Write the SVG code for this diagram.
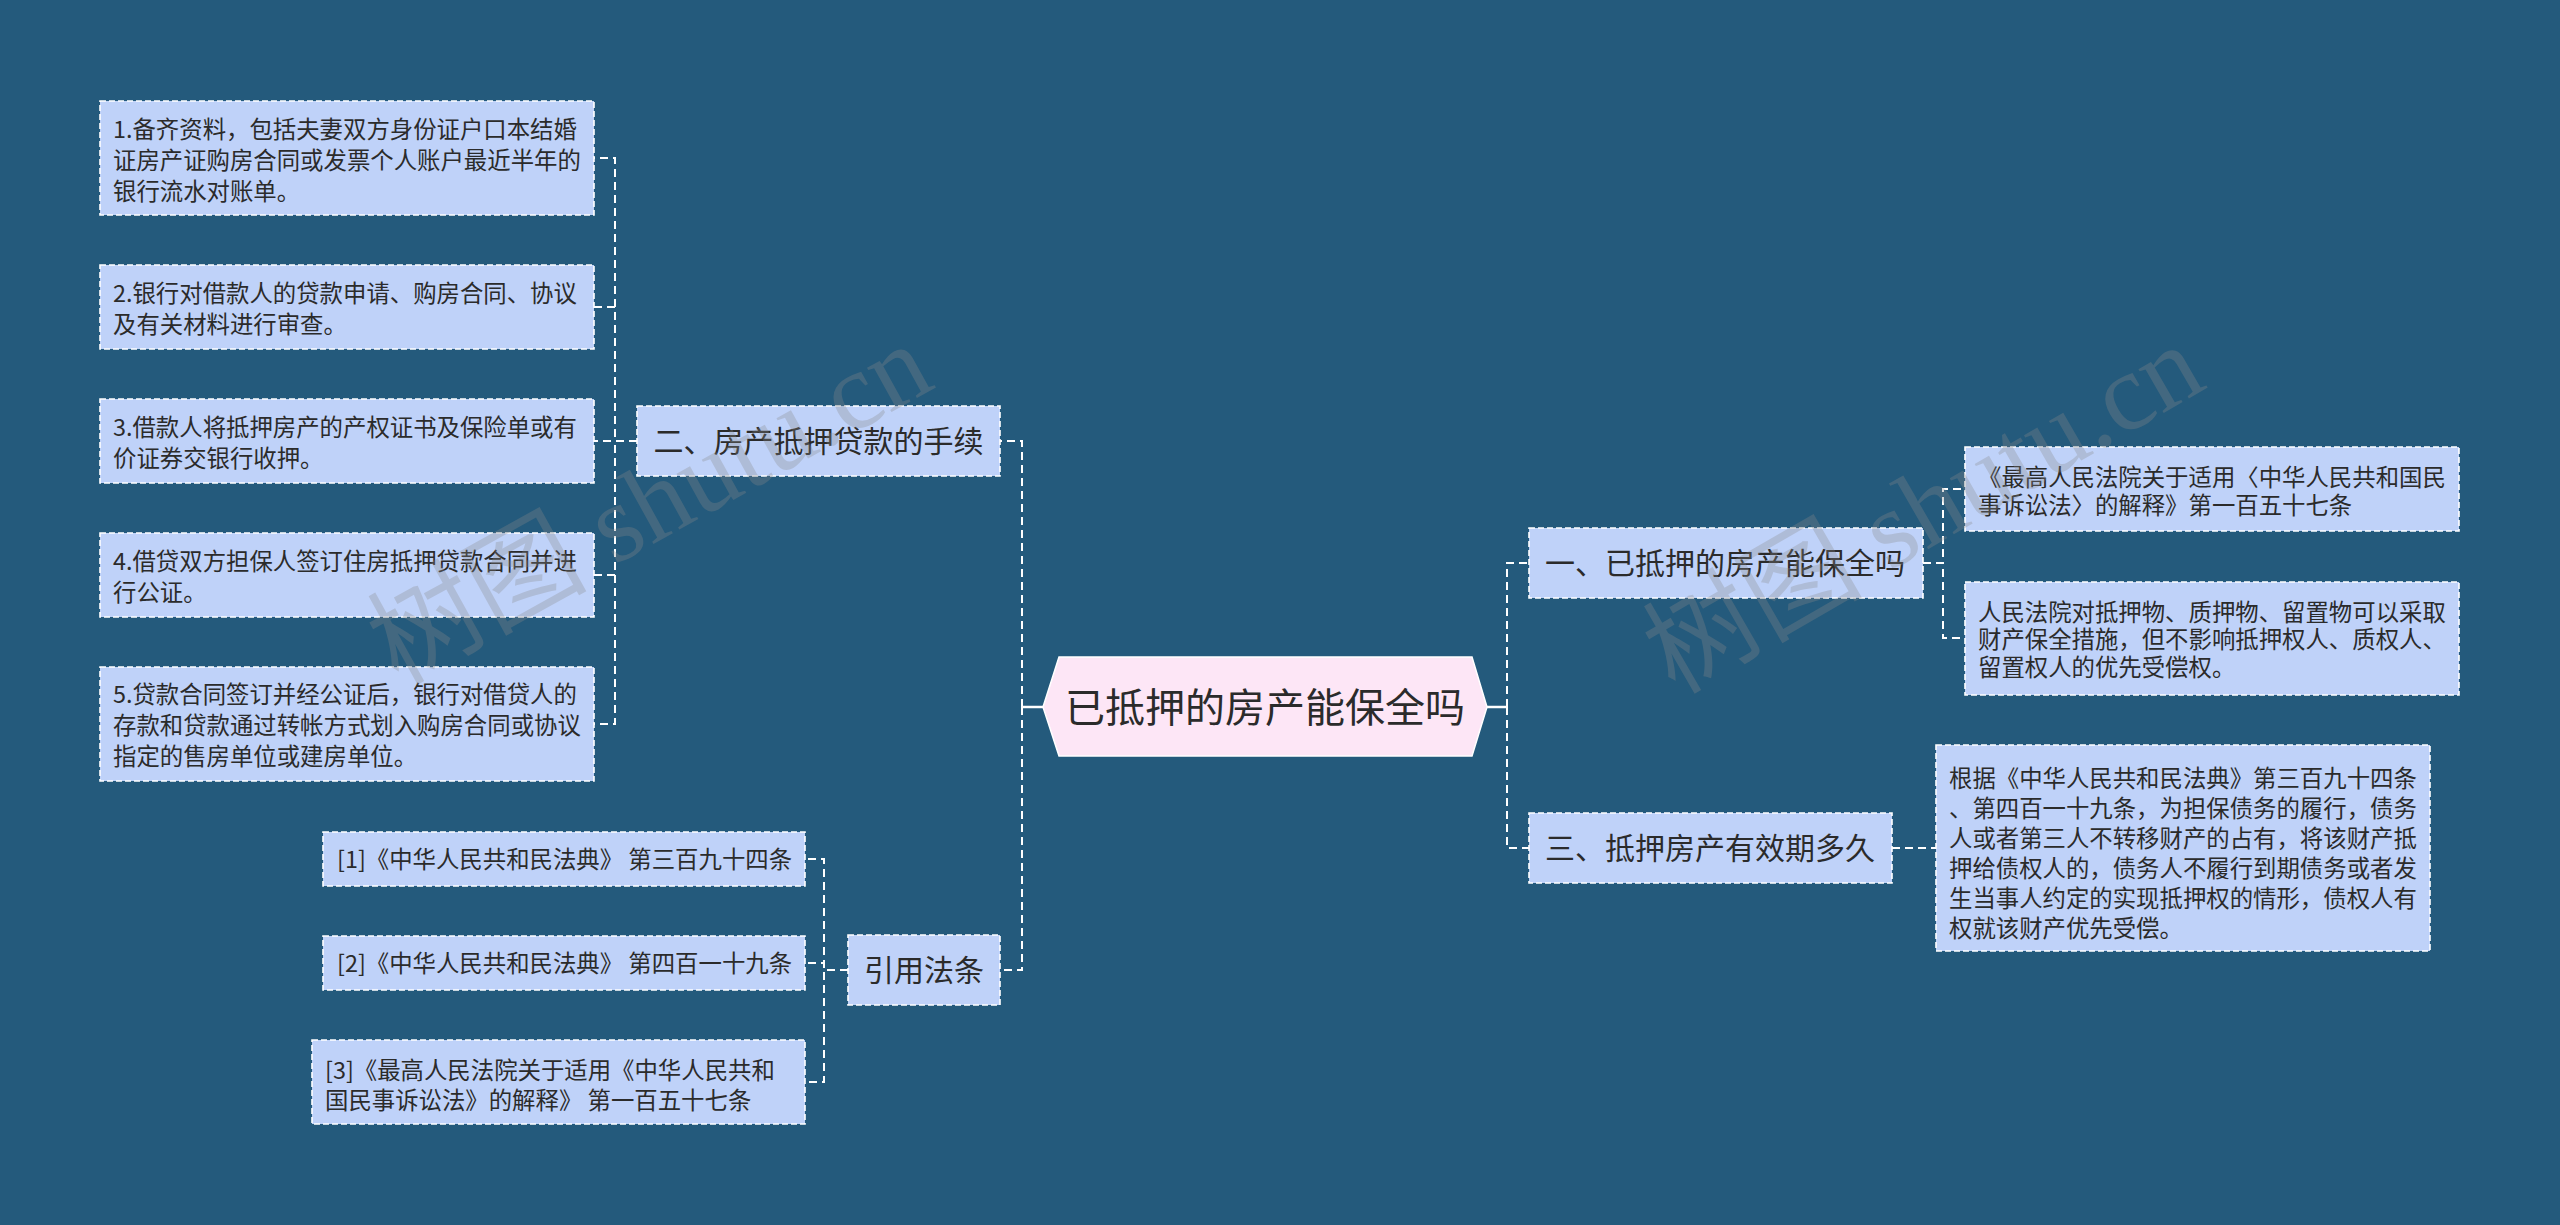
<svg xmlns="http://www.w3.org/2000/svg" width="2560" height="1225" viewBox="0 0 2560 1225">
<style>
.bg{fill:#245a7c}
.box{fill:#bfd2f9;stroke:#ffffff;stroke-width:1.6;stroke-dasharray:6 3}
.hex{fill:#fde6f6;stroke:#ffffff;stroke-width:1.5}
.t{font-family:"Noto Sans CJK SC","Noto Sans",sans-serif;fill:#2b2b2b}
.s{font-size:23.4px}
.m{font-size:30px}
.c{font-size:40px}
.ln{fill:none;stroke:#ffffff;stroke-width:2;stroke-dasharray:8 5}
.solid{fill:none;stroke:#ffffff;stroke-width:2.5}
.wm{font-family:"Liberation Serif","Noto Sans CJK SC",serif;font-size:110px;fill:#8a8a8a;opacity:0.3}
</style>
<rect class="bg" x="0" y="0" width="2560" height="1225"/>

<g id="connectors">
  <path class="ln" d="M637,441 H615 V158 H594"/>
  <path class="ln" d="M637,441 H615 V307 H594"/>
  <path class="ln" d="M637,441 H594"/>
  <path class="ln" d="M637,441 H615 V575 H594"/>
  <path class="ln" d="M637,441 H615 V724 H594"/>
  <path class="ln" d="M848,970 H824 V859 H805"/>
  <path class="ln" d="M848,970 H824 V963 H805"/>
  <path class="ln" d="M848,970 H824 V1082 H805"/>
  <path class="solid" d="M1043,707 H1022"/>
  <path class="ln" d="M1022,707 V441 H1000"/>
  <path class="ln" d="M1022,707 V970 H1000"/>
  <path class="solid" d="M1487,707 H1507"/>
  <path class="ln" d="M1507,707 V563 H1529"/>
  <path class="ln" d="M1507,707 V848 H1529"/>
  <path class="ln" d="M1923,563 H1943 V489 H1965"/>
  <path class="ln" d="M1923,563 H1943 V638 H1965"/>
  <path class="ln" d="M1892,848 H1936"/>
</g>

<g id="center">
  <polygon class="hex" points="1043,707 1059,657 1472,657 1487,707 1472,756 1059,756"/>
  <text class="t c" x="1265" y="722" text-anchor="middle">已抵押的房产能保全吗</text>
</g>

<g id="n2">
  <rect class="box" x="637" y="406" width="363" height="70"/>
  <text class="t m" x="818.5" y="452" text-anchor="middle">二、房产抵押贷款的手续</text>
</g>
<g id="n2-1">
  <rect class="box" x="100" y="101" width="494" height="114"/>
  <text class="t s" x="113" y="138">1.备齐资料，包括夫妻双方身份证户口本结婚</text>
  <text class="t s" x="113" y="169">证房产证购房合同或发票个人账户最近半年的</text>
  <text class="t s" x="113" y="200">银行流水对账单。</text>
</g>
<g id="n2-2">
  <rect class="box" x="100" y="265" width="494" height="84"/>
  <text class="t s" x="113" y="302">2.银行对借款人的贷款申请、购房合同、协议</text>
  <text class="t s" x="113" y="333">及有关材料进行审查。</text>
</g>
<g id="n2-3">
  <rect class="box" x="100" y="399" width="494" height="84"/>
  <text class="t s" x="113" y="436">3.借款人将抵押房产的产权证书及保险单或有</text>
  <text class="t s" x="113" y="467">价证券交银行收押。</text>
</g>
<g id="n2-4">
  <rect class="box" x="100" y="533" width="494" height="84"/>
  <text class="t s" x="113" y="570">4.借贷双方担保人签订住房抵押贷款合同并进</text>
  <text class="t s" x="113" y="601">行公证。</text>
</g>
<g id="n2-5">
  <rect class="box" x="100" y="667" width="494" height="114"/>
  <text class="t s" x="113" y="703">5.贷款合同签订并经公证后，银行对借贷人的</text>
  <text class="t s" x="113" y="734">存款和贷款通过转帐方式划入购房合同或协议</text>
  <text class="t s" x="113" y="765">指定的售房单位或建房单位。</text>
</g>

<g id="refs">
  <rect class="box" x="848" y="935" width="152" height="70"/>
  <text class="t m" x="924" y="981" text-anchor="middle">引用法条</text>
</g>
<g id="ref-1">
  <rect class="box" x="323" y="832" width="482" height="54"/>
  <text class="t s" x="337" y="868">[1]《中华人民共和民法典》 第三百九十四条</text>
</g>
<g id="ref-2">
  <rect class="box" x="323" y="936" width="482" height="54"/>
  <text class="t s" x="337" y="972">[2]《中华人民共和民法典》 第四百一十九条</text>
</g>
<g id="ref-3">
  <rect class="box" x="312" y="1040" width="493" height="84"/>
  <text class="t s" x="325" y="1079">[3]《最高人民法院关于适用《中华人民共和</text>
  <text class="t s" x="325" y="1109">国民事诉讼法》的解释》 第一百五十七条</text>
</g>

<g id="n1">
  <rect class="box" x="1529" y="528" width="394" height="70"/>
  <text class="t m" x="1545" y="574">一、已抵押的房产能保全吗</text>
</g>
<g id="n1-1">
  <rect class="box" x="1965" y="447" width="494" height="84"/>
  <text class="t s" x="1978" y="486">《最高人民法院关于适用〈中华人民共和国民</text>
  <text class="t s" x="1978" y="514">事诉讼法〉的解释》第一百五十七条</text>
</g>
<g id="n1-2">
  <rect class="box" x="1965" y="582" width="494" height="113"/>
  <text class="t s" x="1978" y="621">人民法院对抵押物、质押物、留置物可以采取</text>
  <text class="t s" x="1978" y="648">财产保全措施，但不影响抵押权人、质权人、</text>
  <text class="t s" x="1978" y="676">留置权人的优先受偿权。</text>
</g>

<g id="n3">
  <rect class="box" x="1529" y="813" width="363" height="70"/>
  <text class="t m" x="1545" y="859">三、抵押房产有效期多久</text>
</g>
<g id="n3-1">
  <rect class="box" x="1936" y="745" width="494" height="206"/>
  <text class="t s" x="1949" y="787">根据《中华人民共和民法典》第三百九十四条</text>
  <text class="t s" x="1949" y="817">、第四百一十九条，为担保债务的履行，债务</text>
  <text class="t s" x="1949" y="847">人或者第三人不转移财产的占有，将该财产抵</text>
  <text class="t s" x="1949" y="877">押给债权人的，债务人不履行到期债务或者发</text>
  <text class="t s" x="1949" y="907">生当事人约定的实现抵押权的情形，债权人有</text>
  <text class="t s" x="1949" y="937">权就该财产优先受偿。</text>
</g>

<g id="watermarks">
  <text class="wm" x="653" y="540" text-anchor="middle" transform="rotate(-29 653 510)">树图 shutu.cn</text>
  <text class="wm" x="1927" y="545" text-anchor="middle" transform="rotate(-30 1927 515)">树图 shutu.cn</text>
</g>
</svg>
